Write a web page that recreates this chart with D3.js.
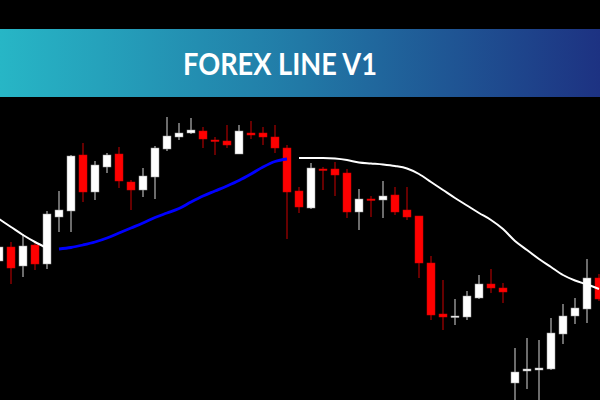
<!DOCTYPE html>
<html>
<head>
<meta charset="utf-8">
<script src="https://cdn.jsdelivr.net/npm/d3@7/dist/d3.min.js"></script>
<style>
html,body{margin:0;padding:0;background:#000;}
svg{display:block;}
</style>
</head>
<body>
<svg id="chart" width="600" height="400"></svg>
<script>
const title = "FOREX LINE V1";

const openPrices = [1.1139,1.1153,1.1134,1.1155,1.1136,1.1183,1.1189,1.1245,1.1208,1.1233,1.1246,1.1218,1.1210,1.1223,1.1251,1.1263,1.1267,1.1269,1.1260,1.1259,1.1246,1.1267,1.1267,1.1263,1.1252,1.1209,1.1192,1.1231,1.1231,1.1227,1.1188,1.1201,1.1200,1.1205,1.1190,1.1184,1.1137,1.1086,1.1083,1.1083,1.1102,1.1116,1.1112,1.1017,1.1029,1.1030,1.1031,1.1066,1.1084,1.1091,1.1122];
const highPrices = [1.1155,1.1158,1.1166,1.1158,1.1189,1.1209,1.1245,1.1257,1.1239,1.1247,1.1253,1.1220,1.1232,1.1254,1.1283,1.1277,1.1282,1.1273,1.1263,1.1275,1.1275,1.1279,1.1273,1.1275,1.1255,1.1213,1.1237,1.1233,1.1238,1.1231,1.1211,1.1204,1.1219,1.1213,1.1213,1.1184,1.1144,1.1120,1.1101,1.1109,1.1125,1.1131,1.1117,1.1052,1.1062,1.1060,1.1082,1.1096,1.1102,1.1141,1.1126];
const lowPrices = [1.1135,1.1116,1.1123,1.1130,1.1131,1.1168,1.1168,1.1198,1.1200,1.1227,1.1212,1.1190,1.1203,1.1201,1.1249,1.1260,1.1266,1.1252,1.1245,1.1252,1.1246,1.1261,1.1255,1.1247,1.1161,1.1187,1.1191,1.1210,1.1204,1.1182,1.1170,1.1183,1.1182,1.1185,1.1180,1.1122,1.1080,1.1070,1.1075,1.1080,1.1101,1.1107,1.1097,1.0998,1.1011,1.0999,1.1030,1.1056,1.1076,1.1077,1.1099];
const closePrices = [1.1153,1.1132,1.1154,1.1136,1.1186,1.1190,1.1244,1.1208,1.1235,1.1245,1.1219,1.1210,1.1224,1.1252,1.1264,1.1267,1.1270,1.1261,1.1259,1.1255,1.1269,1.1265,1.1263,1.1252,1.1208,1.1193,1.1232,1.1230,1.1225,1.1188,1.1201,1.1200,1.1204,1.1188,1.1183,1.1137,1.1085,1.1083,1.1084,1.1104,1.1116,1.1112,1.1108,1.1028,1.1031,1.1032,1.1067,1.1084,1.1092,1.1122,1.1101];
const maValues = [1.1181,1.1173,1.1165,1.1158,1.1152,1.1151,1.11525,1.1155,1.1158,1.1162,1.1167,1.1172,1.1177,1.11825,1.1187,1.11915,1.1198,1.1204,1.1209,1.1214,1.12195,1.1226,1.1233,1.12385,1.1241,1.1242,1.1242,1.1242,1.12415,1.1240,1.12375,1.12365,1.12355,1.1234,1.12315,1.1226,1.1218,1.1210,1.1202,1.11945,1.1187,1.1180,1.1171,1.1159,1.1150,1.1141,1.1133,1.1125,1.11195,1.11155,1.1111];
const maTrend = ["down","down","down","down","down","up","up","up","up","up","up","up","up","up","up","up","up","up","up","up","up","up","up","up","up","down","down","down","down","down","down","down","down","down","down","down","down","down","down","down","down","down","down","down","down","down","down","down","down","down","down"];

const candles = openPrices.map((o, i) => ({
  i, open: o, high: highPrices[i], low: lowPrices[i], close: closePrices[i]
}));

const svg = d3.select("#chart");
const W = 600, H = 400;

svg.append("rect").attr("x",0).attr("y",0).attr("width",W).attr("height",H).attr("fill","#000");

// banner
const defs = svg.append("defs");
const grad = defs.append("linearGradient").attr("id","bannerGrad")
  .attr("x1","0%").attr("x2","100%").attr("y1","0%").attr("y2","0%");
grad.append("stop").attr("offset","0%").attr("stop-color","#27b6c6");
grad.append("stop").attr("offset","50%").attr("stop-color","#2179a6");
grad.append("stop").attr("offset","100%").attr("stop-color","#1d3282");

svg.append("rect").attr("x",0).attr("y",29).attr("width",W).attr("height",68)
  .attr("fill","url(#bannerGrad)");
svg.append("text")
  .attr("x",280).attr("y",74.5)
  .attr("text-anchor","middle")
  .attr("font-family","Lato, 'Open Sans', sans-serif")
  .attr("font-weight",700)
  .attr("font-size",30)
  .attr("fill","#fff")
  .attr("textLength",194)
  .attr("lengthAdjust","spacingAndGlyphs")
  .text(title);

// scales
const x = d3.scaleLinear().domain([0, candles.length - 1]).range([-1, 599]);
const y = d3.scaleLinear().domain([1.1, 1.14]).range([400, 0]);
const bodyW = 8;

const g = svg.append("g");

const cg = g.selectAll("g.candle").data(candles).join("g").attr("class","candle");
cg.append("line")
  .attr("x1", d => x(d.i)).attr("x2", d => x(d.i))
  .attr("y1", d => y(d.high)).attr("y2", d => y(d.low))
  .attr("stroke", d => d.close >= d.open ? "#d8d8d8" : "#cc0000")
  .attr("stroke-width", 1);
cg.append("rect")
  .attr("x", d => x(d.i) - bodyW/2)
  .attr("width", bodyW)
  .attr("y", d => y(Math.max(d.open, d.close)))
  .attr("height", d => Math.max(1.5, Math.abs(y(d.open) - y(d.close))))
  .attr("fill", d => d.close >= d.open ? "#ffffff" : "#ff0000")
  .attr("stroke", d => d.close >= d.open ? "#9a9a9a" : "#d00000")
  .attr("stroke-width", 0.5);

// MA segments
const segments = [];
let cur = null;
maValues.forEach((v, i) => {
  if (!cur || cur.trend !== maTrend[i]) {
    cur = { trend: maTrend[i], pts: [] };
    segments.push(cur);
  }
  cur.pts.push({ i, v });
});
const line = d3.line().x(d => x(d.i)).y(d => y(d.v)).curve(d3.curveMonotoneX);
g.selectAll("path.ma").data(segments).join("path").attr("class","ma")
  .attr("d", d => line(d.pts))
  .attr("fill","none")
  .attr("stroke", d => d.trend === "up" ? "#0000ff" : "#ffffff")
  .attr("stroke-width", d => d.trend === "up" ? 2.8 : 2)
  .attr("stroke-linejoin","round")
  .attr("stroke-linecap","butt");
</script>
</body>
</html>
